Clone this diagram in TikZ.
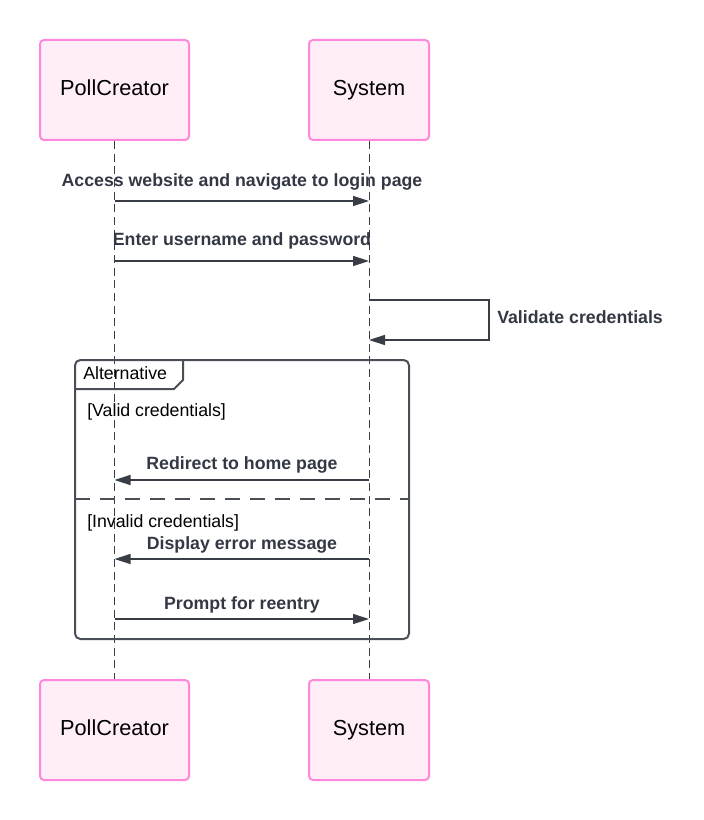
\documentclass[tikz,border=0pt]{standalone}
\usepackage{fontspec}
\setmainfont{Liberation Sans}
\usetikzlibrary{arrows.meta}
\definecolor{actfill}{HTML}{FFEEF8}
\definecolor{actdraw}{HTML}{FF88DD}
\definecolor{msgline}{HTML}{393D46}
\definecolor{msgtext}{HTML}{333844}
\definecolor{frameline}{HTML}{4A4E57}
\tikzset{
  actor/.style={draw=actdraw, fill=actfill, line width=1.5pt, rounded corners=3pt,
    minimum width=111.75pt, minimum height=75pt, inner sep=0pt,
    font=\fontsize{16.3}{19}\selectfont},
  actorS/.style={actor, minimum width=90pt},
  actortext/.style={inner sep=0pt, text height=11.7pt, text depth=0pt,
    font=\fontsize{16.3}{19}\selectfont},
  lifeline/.style={draw=msgline, line width=0.75pt, dash pattern=on 6pt off 3.5pt},
  msg/.style={draw=msgline, line width=1.1pt, -{Triangle[length=12pt,width=7.5pt]}},
  msglabel/.style={text=msgtext, font=\bfseries\fontsize{13.3}{16}\selectfont, inner sep=0pt,
    text height=9.5pt, text depth=0pt},
  framelabel/.style={text=black, font=\fontsize{13.3}{16}\selectfont, inner sep=0pt, anchor=west,
    text height=9.5pt, text depth=0pt},
  frame/.style={draw=frameline, line width=1.5pt}
}
\begin{document}
\begin{tikzpicture}[x=0.75pt, y=-0.75pt]
\useasboundingbox (0,0) rectangle (703,820);
% actors
\node[actor] (pcT) at (114.5,90) {};
\node[actorS] (sysT) at (369,90) {};
\node[actor] (pcB) at (114.5,730) {};
\node[actorS] (sysB) at (369,730) {};
\node[actortext] (pcTt) at (114.5,88) {PollCreator};
\node[actortext] (sysTt) at (369,88) {System};
\node[actortext] (pcBt) at (114.5,728) {PollCreator};
\node[actortext] (sysBt) at (369,728) {System};
% lifelines
\draw[lifeline] (pcT.south) -- (pcB.north);
\draw[lifeline] (sysT.south) -- (sysB.north);
% message coordinates
\coordinate (p1) at (114.5,201); \coordinate (s1) at (369,201);
\coordinate (p2) at (114.5,261); \coordinate (s2) at (369,261);
\coordinate (s3a) at (369,300); \coordinate (s3b) at (369,340);
\coordinate (p4) at (114.5,480); \coordinate (s4) at (369,480);
\coordinate (p5) at (114.5,559); \coordinate (s5) at (369,559);
\coordinate (p6) at (114.5,619); \coordinate (s6) at (369,619);
% frame
\draw[frame, rounded corners=4pt] (75,360) rectangle (409,639);
\draw[frame] (75,389) -- (174,389) -- (183,380) -- (183,361);
\node[framelabel] (alt) at (83,373.5) {Alternative};
\node[framelabel] (g1) at (87,410.5) {[Valid credentials]};
\node[framelabel] (g2) at (87,521) {[Invalid credentials]};
\draw[frame, dash pattern=on 11.25pt off 7.5pt] (75,499) -- (409,499);
% messages
\draw[msg] (p1) -- (s1);
\node[msglabel] (l1) at (242,179.7) {Access website and navigate to login page};
\draw[msg] (p2) -- (s2);
\node[msglabel] (l2) at (242,239.5) {Enter username and password};
\draw[msg] (s3a) -- (489,300) -- (489,340) -- (s3b);
\node[msglabel, anchor=west] (l3) at (497,317.5) {Validate credentials};
\draw[msg] (s4) -- (p4);
\node[msglabel] (l4) at (242,463) {Redirect to home page};
\draw[msg] (s5) -- (p5);
\node[msglabel] (l5) at (242,542.7) {Display error message};
\draw[msg] (p6) -- (s6);
\node[msglabel] (l6) at (242,602.7) {Prompt for reentry};
\end{tikzpicture}
\end{document}
